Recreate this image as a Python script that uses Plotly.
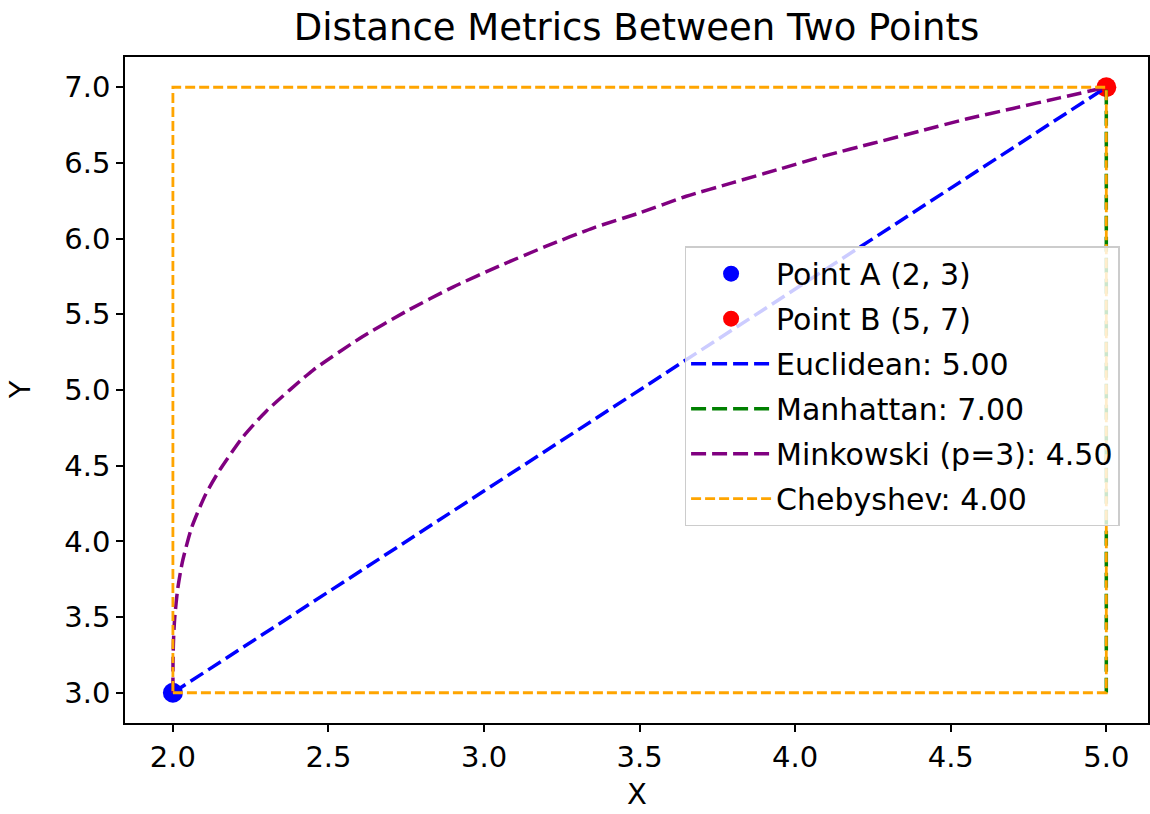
import plotly.graph_objects as go

# Data
point_a = (2, 3)
point_b = (5, 7)
euclid_x = [2, 5]
euclid_y = [3, 7]
manhattan_x = [5, 5]
manhattan_y = [3, 7]
minkowski_x = [2.0, 2.0003, 2.0015, 2.003, 2.006, 2.015, 2.03, 2.06, 2.105, 2.15, 2.225, 2.3,
               2.45, 2.6, 2.75, 2.9, 3.05, 3.2, 3.35, 3.5, 3.65, 3.8, 3.95, 4.1, 4.25, 4.4,
               4.55, 4.7, 4.85, 5.0]
minkowski_y = [3.0, 3.19, 3.32, 3.40, 3.50, 3.68, 3.86, 4.09, 4.31, 4.47, 4.69, 4.86,
               5.13, 5.34, 5.52, 5.68, 5.82, 5.95, 6.07, 6.17, 6.28, 6.37, 6.46, 6.55, 6.63, 6.71,
               6.79, 6.86, 6.93, 7.0]
cheb_x = [2, 5, 5, 2, 2]
cheb_y = [3, 3, 7, 7, 3]
x_ticks = [2.0, 2.5, 3.0, 3.5, 4.0, 4.5, 5.0]
y_ticks = [3.0, 3.5, 4.0, 4.5, 5.0, 5.5, 6.0, 6.5, 7.0]
labels = ["Point A (2, 3)", "Point B (5, 7)", "Euclidean: 5.00", "Manhattan: 7.00",
          "Minkowski (p=3): 4.50", "Chebyshev: 4.00"]

FONT = "DejaVu Sans"
fig = go.Figure()
fig.add_trace(go.Scatter(x=[point_a[0]], y=[point_a[1]], mode="markers", name=labels[0],
                         legendgroup="a", marker=dict(color="blue", size=20)))
fig.add_trace(go.Scatter(x=[point_b[0]], y=[point_b[1]], mode="markers", name=labels[1],
                         legendgroup="b", marker=dict(color="red", size=20)))
fig.add_trace(go.Scatter(x=euclid_x, y=euclid_y, mode="lines", name=labels[2],
                         legendgroup="c", line=dict(color="blue", width=3.5, dash="15px,6px")))
fig.add_trace(go.Scatter(x=manhattan_x, y=manhattan_y, mode="lines", name=labels[3],
                         legendgroup="d", line=dict(color="green", width=3.5, dash="15px,6px")))
fig.add_trace(go.Scatter(x=minkowski_x, y=minkowski_y, mode="lines", name=labels[4],
                         legendgroup="e",
                         line=dict(color="purple", width=3.5, dash="15px,6px", shape="spline",
                                   smoothing=0.6)))
fig.add_trace(go.Scatter(x=cheb_x, y=cheb_y, mode="lines", name=labels[5],
                         legendgroup="f", line=dict(color="orange", width=2.8, dash="10px,4px")))

axis_common = dict(showline=True, linecolor="black", linewidth=1.5, mirror=True,
                   ticks="outside", ticklen=7, tickwidth=1.5, tickcolor="black",
                   showgrid=False, zeroline=False,
                   tickfont=dict(family=FONT, size=29, color="black"))
fig.update_xaxes(range=[1.846, 5.134], tickvals=x_ticks,
                 ticktext=[f"{v:.1f}" for v in x_ticks], **axis_common)
fig.update_yaxes(range=[2.8, 7.2], tickvals=y_ticks,
                 ticktext=[f"{v:.1f}" for v in y_ticks], **axis_common)
fig.update_layout(
    width=1150, height=814,
    margin=dict(l=125, r=0, t=57, b=91),
    plot_bgcolor="white", paper_bgcolor="white",
    title=dict(text="Distance Metrics Between Two Points", x=0.5, xref="paper", xanchor="center",
               y=1 - 27 / 814, yanchor="middle", font=dict(family=FONT, size=37, color="black")),
    legend=dict(x=0.547, y=0.716, xanchor="left", yanchor="top",
                bgcolor="rgba(255,255,255,0.8)", bordercolor="#cccccc", borderwidth=1.5,
                font=dict(family=FONT, size=30, color="black"), tracegroupgap=3,
                itemwidth=80),
    showlegend=True,
    annotations=[
        dict(text="X", xref="paper", yref="paper", x=0.5, y=(723 - 794) / 666,
             xanchor="center", yanchor="middle", showarrow=False,
             font=dict(family=FONT, size=29, color="black")),
        dict(text="Y", xref="paper", yref="paper", x=(20 - 125) / 1025, y=0.5,
             xanchor="center", yanchor="middle", showarrow=False, textangle=-90,
             font=dict(family=FONT, size=29, color="black")),
    ],
)
fig.write_html("out.html", config={"displayModeBar": False},
               post_script="document.body.style.margin='0px';")
